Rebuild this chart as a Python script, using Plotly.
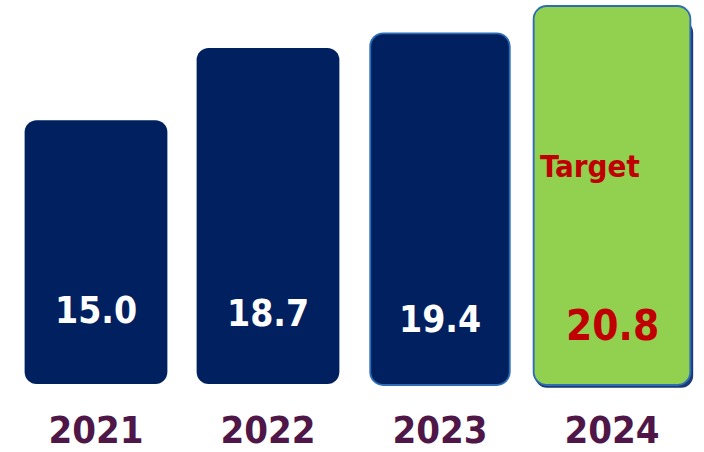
import plotly.graph_objects as go

years = ["2021", "2022", "2023", "2024"]
values = [15.0, 18.7, 19.4, 20.8]
value_labels = ["15.0", "18.7", "19.4", "20.8"]
target_label = "Target"

NAVY = "#002060"
GREEN = "#92D050"
BORDER = "#2E6DB4"
SHADOW = "#1B3A78"
PURPLE = "#4E1747"
RED = "#C00000"

Y0 = 1.5
Y1 = 21.16
PAD = 0.1
FONT = "DejaVu Sans Condensed, Roboto, sans-serif"

xs = list(range(len(years)))
fills = [NAVY, NAVY, NAVY, GREEN]
widths = [0.83, 0.83, 0.80, 0.90]
R = 12

fig = go.Figure()

# shadow under target bar
fig.add_trace(go.Bar(x=[xs[3] + 0.012], y=[values[3] - Y0 - 0.5], base=[Y0 - 0.2],
                     width=[widths[3] + 0.02],
                     marker=dict(color=SHADOW, cornerradius=R, line_width=0),
                     hoverinfo="skip", showlegend=False))

# outline bars for 2023 & 2024
ob = [2, 3]
fig.add_trace(go.Bar(
    x=[xs[i] for i in ob],
    y=[values[i] - Y0 + 2 * PAD for i in ob],
    base=[Y0 - PAD for i in ob],
    width=[widths[i] + 0.022 for i in ob],
    marker=dict(color=BORDER, cornerradius=R + 2, line_width=0),
    hoverinfo="skip", showlegend=False))

# fill bars
fig.add_trace(go.Bar(
    x=xs,
    y=[v - Y0 for v in values],
    base=[Y0] * len(values),
    width=widths,
    marker=dict(color=fills, cornerradius=R, line_width=0),
    hoverinfo="skip", showlegend=False))

annotations = []
label_y = [0.205, 0.195, 0.18, 0.165]
for i, lab in enumerate(value_labels):
    last = i == 3
    annotations.append(dict(
        x=xs[i], xref="x", y=label_y[i], yref="paper", text=lab, showarrow=False,
        font=dict(family=FONT, size=42 if last else 37, color=RED if last else "white",
                  weight="bold"),
        xanchor="center", yanchor="middle"))
annotations.append(dict(
    x=xs[3], xref="x", y=0.575, yref="paper", text=target_label, showarrow=False,
    font=dict(family=FONT, size=31, color=RED, weight="bold"),
    xanchor="center", yanchor="middle", xshift=-22))

fig.update_layout(
    width=704, height=452,
    margin=dict(l=10, r=6, t=0, b=60),
    barmode="overlay",
    plot_bgcolor="white", paper_bgcolor="white",
    showlegend=False,
    annotations=annotations,
    xaxis=dict(range=[-0.5, len(years) - 0.5], tickvals=xs, ticktext=years,
               showgrid=False, zeroline=False, showline=False,
               ticks="", ticklabelstandoff=14,
               tickfont=dict(family=FONT, size=38, color=PURPLE, weight="bold")),
    yaxis=dict(range=[Y0 - 0.31, Y1], visible=False, showgrid=False, zeroline=False),
)

fig.write_html("out.html")
